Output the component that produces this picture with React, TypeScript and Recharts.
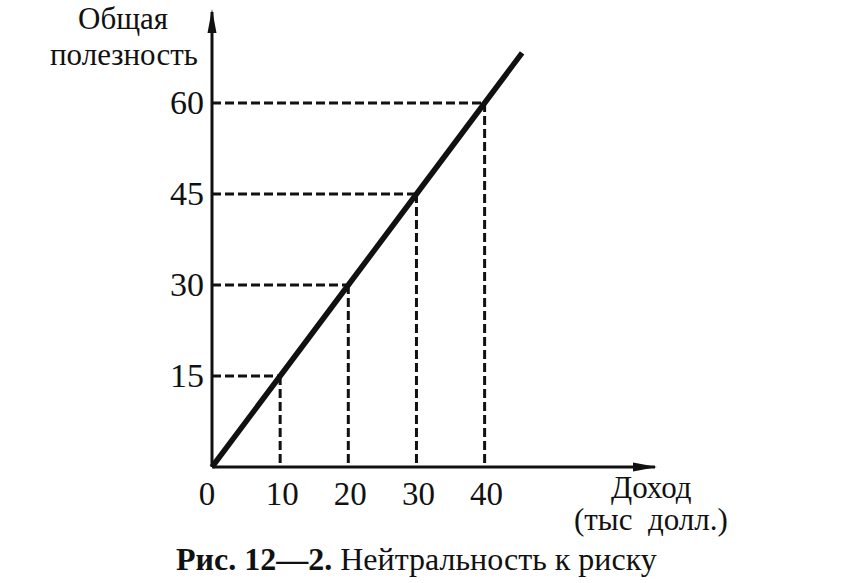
import React from 'react';
import { LineChart, Line, XAxis, YAxis, ReferenceLine, ReferenceDot } from 'recharts';

// income, thousand dollars (x) and total utility (y)
const income = [0, 10, 20, 30, 40, 45.5];
const utility = [0, 15, 30, 45, 60, 68.25];
const incomeTicks = [0, 10, 20, 30, 40];
const utilityTicks = [15, 30, 45, 60];
const xMax = 65;
const yMax = 75;

const lineData = income.map((x, i) => ({ x, y: utility[i] }));
const marked = lineData.slice(1, 5);

const FONT = '"Times New Roman", Tinos, "DejaVu Serif", serif';

const XTick = (props: any) => {
  const { x, y, payload } = props;
  const dx = payload.value === 0 ? -5 : 2;
  return (
    <text x={x + dx} y={y + 38} textAnchor="middle" fontSize={33} fontFamily={FONT} fill="#111">
      {payload.value}
    </text>
  );
};

const YTick = (props: any) => {
  const { x, y, payload } = props;
  return (
    <text x={x - 8} y={y + 11} textAnchor="end" fontSize={34} fontFamily={FONT} fill="#111">
      {payload.value}
    </text>
  );
};

const ArrowRight = (props: any) => {
  const { cx, cy } = props;
  return <path d={`M${cx + 2},${cy} l-24,-4.5 l0,9 z`} fill="#111" />;
};

const ArrowUp = (props: any) => {
  const { cx, cy } = props;
  return <path d={`M${cx},${cy - 3} l-4.5,24 l9,0 z`} fill="#111" />;
};

const label: React.CSSProperties = {
  position: 'absolute',
  fontFamily: FONT,
  color: '#111',
  whiteSpace: 'nowrap',
  lineHeight: 1,
};

export default function App() {
  return (
    <div style={{ position: 'absolute', left: 0, top: 0, width: 857, height: 583, background: '#fff' }}>
      <LineChart
        width={857}
        height={583}
        data={lineData}
        margin={{ top: 12, right: 202, bottom: 56, left: 152 }}
      >
        <XAxis
          type="number"
          dataKey="x"
          domain={[0, xMax]}
          ticks={incomeTicks}
          tick={<XTick />}
          tickLine={false}
          tickSize={0}
          tickMargin={0}
          axisLine={{ stroke: '#111', strokeWidth: 3 }}
          height={60}
          interval={0}
        />
        <YAxis
          type="number"
          dataKey="y"
          domain={[0, yMax]}
          ticks={utilityTicks}
          tick={<YTick />}
          tickLine={false}
          tickSize={0}
          tickMargin={0}
          axisLine={{ stroke: '#111', strokeWidth: 3 }}
          width={60}
          interval={0}
        />
        {marked.map((p) => (
          <ReferenceLine
            key={`h${p.x}`}
            segment={[{ x: 0, y: p.y }, { x: p.x, y: p.y }]}
            stroke="#111"
            strokeWidth={3}
            strokeDasharray="9 4"
          />
        ))}
        {marked.map((p) => (
          <ReferenceLine
            key={`v${p.x}`}
            segment={[{ x: p.x, y: p.y }, { x: p.x, y: 0 }]}
            stroke="#111"
            strokeWidth={3}
            strokeDasharray="9 4"
          />
        ))}
        <ReferenceDot x={xMax} y={0} r={0} shape={<ArrowRight />} ifOverflow="visible" />
        <ReferenceDot x={0} y={yMax} r={0} shape={<ArrowUp />} ifOverflow="visible" />
        <Line
          type="linear"
          dataKey="y"
          stroke="#111"
          strokeWidth={5.5}
          dot={false}
          isAnimationActive={false}
        />
      </LineChart>

      <div style={{ ...label, left: 78, top: 3, fontSize: 31 }}>Общая</div>
      <div style={{ ...label, left: 50, top: 39, fontSize: 31 }}>полезность</div>
      <div style={{ ...label, left: 611, top: 472, fontSize: 31 }}>Доход</div>
      <div style={{ ...label, left: 574, top: 504, fontSize: 31 }}>(тыс&nbsp;&nbsp;долл.)</div>
      <div style={{ ...label, left: 176, top: 543, fontSize: 32 }}>
        <b>Рис. 12—2.</b> Нейтральность к риску
      </div>
    </div>
  );
}
